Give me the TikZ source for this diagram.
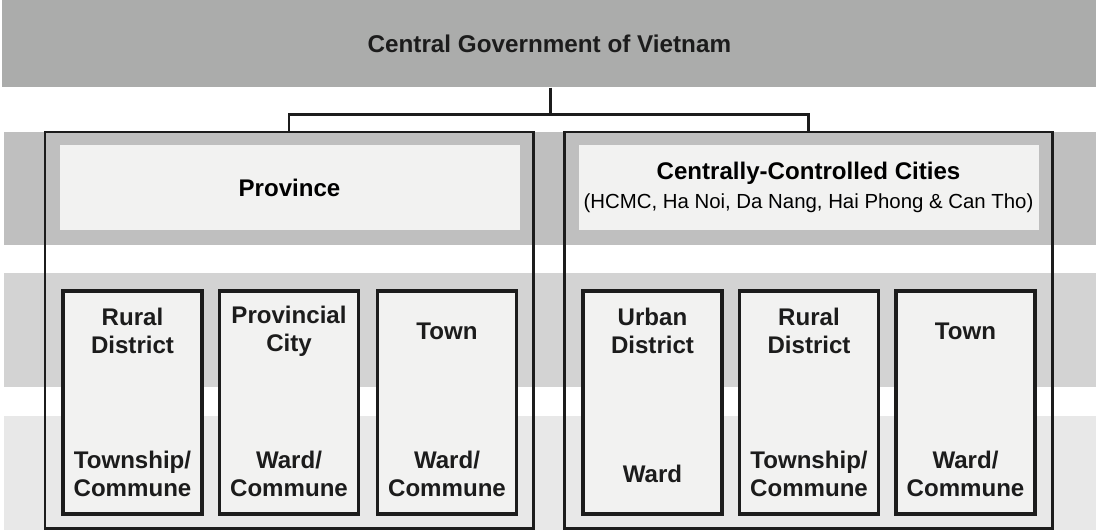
\documentclass[tikz,border=0pt]{standalone}
\usepackage{fontspec}
\setmainfont{Liberation Sans}
\usepackage{tikz}
\usetikzlibrary{positioning,calc}
\definecolor{ink}{HTML}{1C1C1C}
\definecolor{bandA}{HTML}{ABACAB}
\definecolor{bandB}{HTML}{BFBFBF}
\definecolor{bandC}{HTML}{D3D3D3}
\definecolor{bandD}{HTML}{E8E8E8}
\definecolor{pale}{HTML}{F2F2F1}
\tikzset{
  band/.style={fill=#1,draw=none,anchor=north west,inner sep=0pt,
    minimum width=21.88cm,minimum height=2.28cm},
  tier/.style={draw=ink,line width=1.7pt,fill=none,minimum width=9.76cm,
    minimum height=7.92cm,inner sep=0pt},
  head/.style={fill=pale,draw=none,minimum width=9.2cm,minimum height=1.7cm,
    inner sep=0pt,align=center,font=\fontsize{13.7}{16.5}\selectfont\bfseries},
  unit/.style={draw=ink,line width=2.2pt,fill=pale,minimum width=2.78cm,
    minimum height=4.46cm,inner sep=0pt},
  lbl/.style={align=center,font=\fontsize{13.7}{15.9}\selectfont\bfseries,text=ink},
  link/.style={draw=ink,line width=1.7pt},
}

\begin{document}
\begin{tikzpicture}[x=1cm,y=1cm]
  \useasboundingbox[fill=white] (0,0) rectangle (21.92,-10.6);
  % level bands
  \node[band=bandA,minimum height=1.74cm] (gov) at (0.04,0) {};
  \node[font=\fontsize{13.8}{16}\selectfont\bfseries,text=ink] (govlbl) at (gov.center) {Central Government of Vietnam};
  \node[band=bandB,minimum height=2.26cm] (lvlB) at (0.08,-2.64) {};
  \node[band=bandC] (lvlC) at (0.08,-5.46) {};
  \node[band=bandD] (lvlD) at (0.08,-8.32) {};
  % provinces
  \node[tier] (prov) at (5.78,-6.6) {};
  \node[head] (provhead) at (5.79,-3.75) {Province};
  \node[unit] (rd1) at (2.65,-8.05) {};
  \node[unit] (pc) at (5.78,-8.05) {};
  \node[unit] (tn1) at (8.94,-8.05) {};
  % centrally-controlled cities
  \node[tier] (city) at (16.16,-6.6) {};
  \node[head] (cityhead) at (16.17,-3.75) {Centrally-Controlled Cities\\
    {\fontsize{11.6}{13}\selectfont\mdseries (HCMC, Ha Noi, Da Nang, Hai Phong \& Can Tho)}};
  \node[unit] (ud) at (13.05,-8.05) {};
  \node[unit] (rd2) at (16.18,-8.05) {};
  \node[unit] (tn2) at (19.31,-8.05) {};
  % unit labels
  \node[lbl] (rd1top) at ([yshift=-0.84cm]rd1.north) {Rural\\District};
  \node[lbl] (rd1bot) at ([yshift=0.84cm]rd1.south) {Township/\\Commune};
  \node[lbl] (pctop) at ([yshift=-0.84cm]pc.north) {Provincial\\City};
  \node[lbl] (pcbot) at ([yshift=0.84cm]pc.south) {Ward/\\Commune};
  \node[lbl] (tn1top) at ([yshift=-0.84cm]tn1.north) {Town};
  \node[lbl] (tn1bot) at ([yshift=0.84cm]tn1.south) {Ward/\\Commune};
  \node[lbl] (udtop) at ([yshift=-0.84cm]ud.north) {Urban\\District};
  \node[lbl] (udbot) at ([yshift=0.84cm]ud.south) {Ward};
  \node[lbl] (rd2top) at ([yshift=-0.84cm]rd2.north) {Rural\\District};
  \node[lbl] (rd2bot) at ([yshift=0.84cm]rd2.south) {Township/\\Commune};
  \node[lbl] (tn2top) at ([yshift=-0.84cm]tn2.north) {Town};
  \node[lbl] (tn2bot) at ([yshift=0.84cm]tn2.south) {Ward/\\Commune};
  % connector
  \coordinate (split) at (11.0,-2.29);
  \draw[link] (gov.south -| split) -- (split);
  \draw[link] (prov.north) |- (split) -| (city.north);
\end{tikzpicture}
\end{document}
